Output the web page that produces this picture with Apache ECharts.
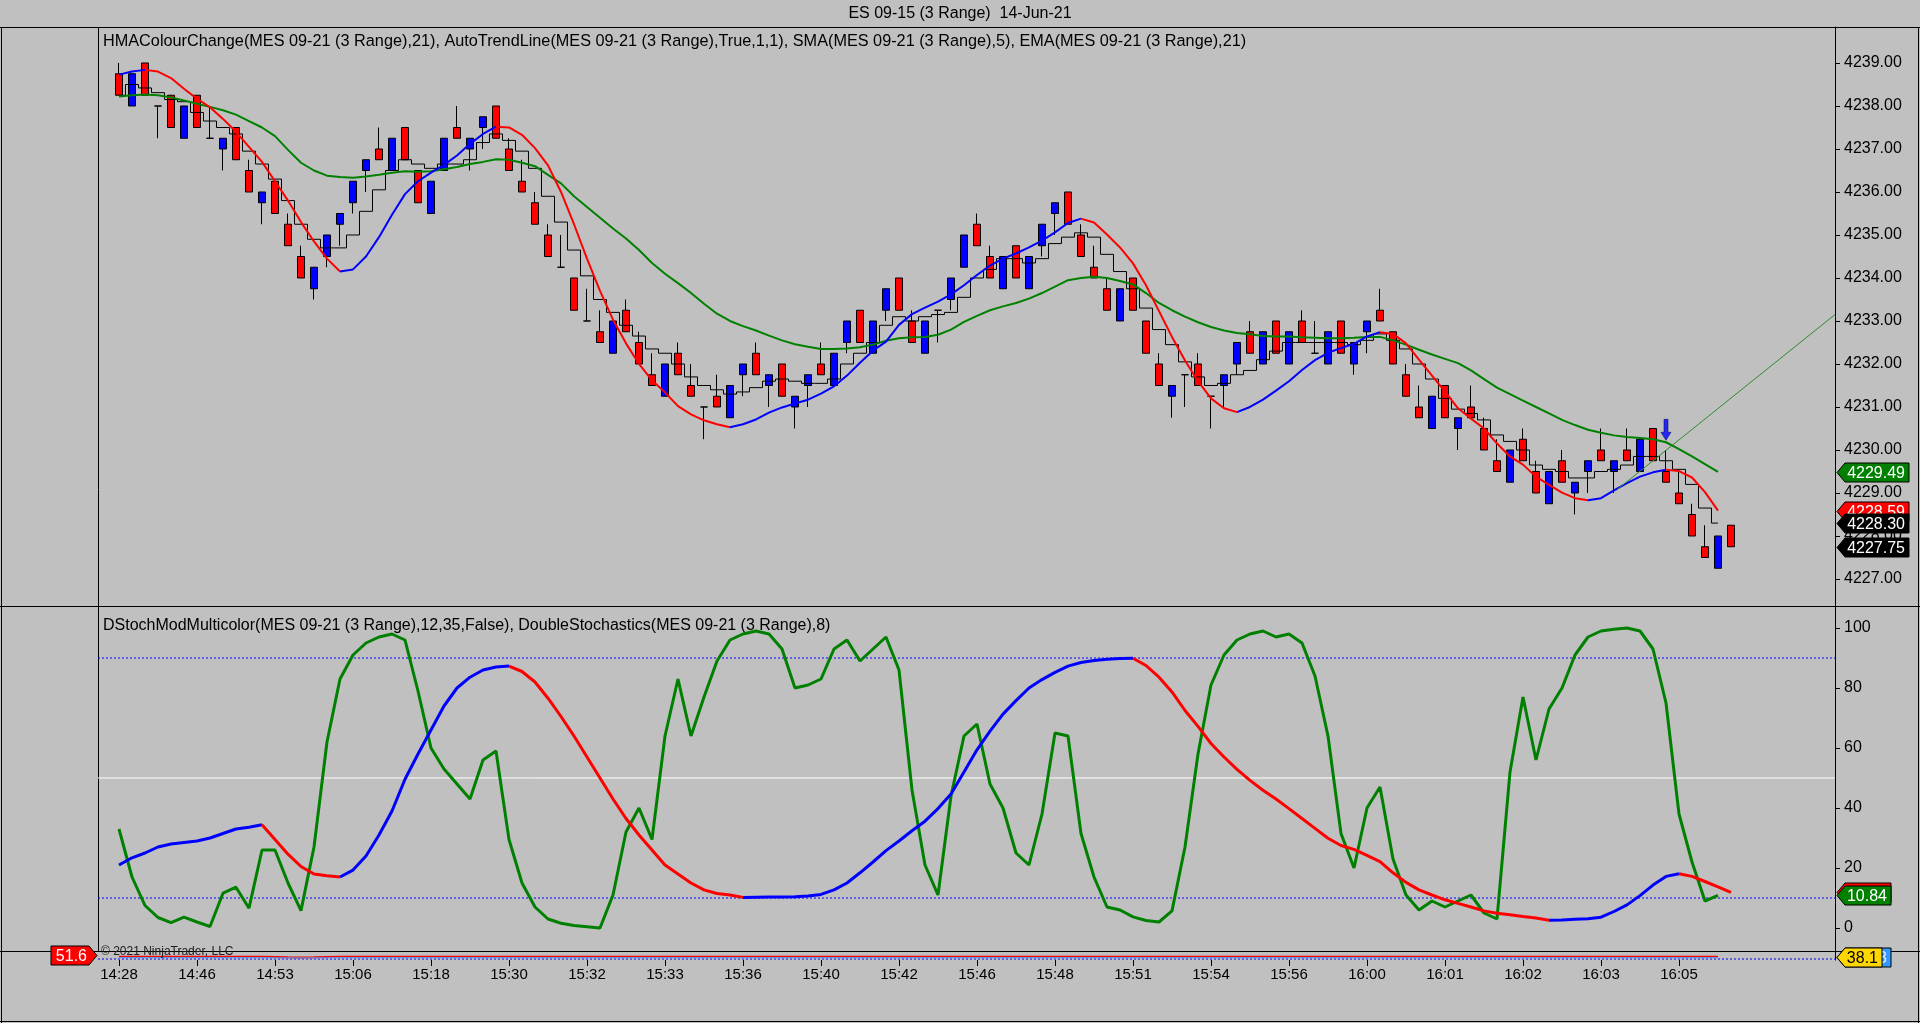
<!DOCTYPE html>
<html><head><meta charset="utf-8">
<script src="https://cdn.jsdelivr.net/npm/echarts@6/dist/echarts.min.js"></script>
<style>html,body{margin:0;padding:0;background:#c0c0c0;overflow:hidden}#c{width:1920px;height:1023px}</style>
</head><body><div id="c"></div>
<script>
// ---------- DATA ----------
const timeLabels = ["14:28","14:46","14:53","15:06","15:18","15:30","15:32","15:33","15:36","15:40","15:42","15:46","15:48","15:51","15:54","15:56","16:00","16:01","16:02","16:03","16:05"];
const labelEvery = 6;

const openP = [
4238.75,4238.0,4239.0,4238.0,4238.25,4237.25,4238.25,4237.25,4237.0,4237.5,
4236.5,4235.75,4236.25,4235.25,4234.5,4233.75,4234.5,4235.25,4235.75,4236.5,
4237.0,4236.5,4237.5,4236.5,4235.5,4236.5,4237.5,4237.0,4237.5,4238.0,
4237.0,4236.25,4235.75,4235.0,4234.25,4234.0,4233.0,4232.75,4232.25,4233.25,
4232.5,4231.75,4231.25,4232.25,4231.5,4231.0,4231.25,4230.75,4231.75,4232.25,
4231.5,4232.0,4231.0,4231.5,4232.0,4231.5,4232.5,4233.25,4232.25,4233.25,
4234.0,4233.0,4232.25,4233.25,4233.5,4234.25,4235.25,4234.5,4233.75,4234.75,
4233.75,4234.75,4235.5,4236.0,4235.0,4234.25,4233.75,4233.0,4234.0,4233.0,
4232.0,4231.25,4231.75,4232.0,4231.25,4231.5,4232.0,4232.75,4232.0,4233.0,
4232.0,4233.0,4232.25,4232.0,4233.0,4232.0,4232.75,4233.25,4232.75,4231.75,
4231.0,4230.5,4231.5,4230.5,4231.0,4230.5,4229.75,4229.25,4230.25,4229.5,
4228.75,4229.75,4229.0,4229.5,4230.0,4229.5,4230.0,4229.5,4230.5,4229.5,
4229.0,4228.5,4227.75,4227.25,4228.25];
const closeP = [
4238.25,4238.75,4238.25,4238.0,4237.5,4238.0,4237.5,4237.25,4237.25,4236.75,
4236.0,4236.0,4235.5,4234.75,4234.0,4234.25,4235.0,4235.5,4236.25,4236.75,
4236.75,4237.25,4236.75,4235.75,4236.25,4237.25,4237.25,4237.25,4237.75,4237.25,
4236.5,4236.0,4235.25,4234.5,4234.25,4233.25,4233.0,4232.5,4233.0,4232.75,
4232.0,4231.5,4232.0,4231.75,4231.25,4231.0,4231.0,4231.5,4232.0,4231.75,
4231.75,4231.25,4231.25,4231.75,4231.75,4232.25,4233.0,4232.5,4233.0,4233.75,
4233.25,4232.5,4233.0,4233.25,4234.0,4235.0,4234.75,4234.0,4234.5,4234.0,
4234.5,4235.25,4235.75,4235.25,4234.5,4234.0,4233.25,4233.75,4233.25,4232.25,
4231.5,4231.5,4231.75,4231.5,4231.25,4231.75,4232.5,4232.25,4232.75,4232.25,
4232.75,4232.5,4232.25,4232.75,4232.25,4232.5,4233.0,4233.0,4232.0,4231.25,
4230.75,4231.25,4230.75,4230.75,4230.75,4230.0,4229.5,4230.0,4229.75,4229.0,
4229.5,4229.25,4229.25,4229.75,4229.75,4229.75,4229.75,4230.25,4229.75,4229.25,
4228.75,4228.0,4227.5,4228.0,4227.75];
const lowP = [
4238.25,4238.0,4238.25,4237.25,4237.5,4237.25,4237.5,4237.25,4236.5,4236.75,
4236.0,4235.25,4235.5,4234.75,4234.0,4233.5,4234.25,4234.75,4235.5,4236.0,
4236.75,4236.5,4236.75,4235.75,4235.5,4236.5,4237.25,4236.5,4237.0,4237.25,
4236.5,4236.0,4235.25,4234.5,4234.25,4233.25,4233.0,4232.5,4232.25,4232.75,
4232.0,4231.5,4231.25,4231.75,4231.25,4230.25,4231.0,4230.75,4231.25,4231.75,
4231.0,4231.25,4230.5,4231.0,4231.75,4231.5,4232.25,4232.5,4232.25,4233.0,
4233.25,4232.5,4232.25,4232.5,4233.25,4234.25,4234.75,4234.0,4233.75,4234.0,
4233.75,4234.5,4235.0,4235.25,4234.5,4234.0,4233.25,4233.0,4233.25,4232.25,
4231.5,4230.75,4231.0,4231.5,4230.5,4231.0,4231.75,4232.25,4232.0,4232.25,
4232.0,4232.5,4232.25,4232.0,4232.25,4231.75,4232.25,4233.0,4232.0,4231.25,
4230.75,4230.5,4230.75,4230.0,4230.75,4230.0,4229.5,4229.25,4229.75,4229.0,
4228.75,4229.25,4228.5,4229.0,4229.75,4229.0,4229.75,4229.5,4229.75,4229.25,
4228.75,4228.0,4227.5,4227.25,4227.75];
const highP = [
4239.0,4238.75,4239.0,4238.0,4238.25,4238.0,4238.25,4238.0,4237.25,4237.5,
4236.75,4236.0,4236.25,4235.5,4234.75,4234.25,4235.0,4235.5,4236.25,4236.75,
4237.5,4237.25,4237.5,4236.5,4236.25,4237.25,4238.0,4237.25,4237.75,4238.0,
4237.25,4236.75,4236.0,4235.25,4235.0,4234.0,4233.75,4233.25,4233.0,4233.5,
4232.75,4232.25,4232.0,4232.5,4232.0,4231.0,4231.75,4231.5,4232.0,4232.5,
4231.75,4232.0,4231.25,4231.75,4232.5,4232.25,4233.0,4233.25,4233.0,4233.75,
4234.0,4233.25,4233.0,4233.25,4234.0,4235.0,4235.5,4234.75,4234.5,4234.75,
4234.5,4235.25,4235.75,4236.0,4235.25,4234.75,4234.0,4233.75,4234.0,4233.0,
4232.25,4231.5,4231.75,4232.25,4231.25,4231.75,4232.5,4233.0,4232.75,4233.0,
4232.75,4233.25,4233.0,4232.75,4233.0,4232.5,4233.0,4233.75,4232.75,4232.0,
4231.5,4231.25,4231.5,4230.75,4231.5,4230.75,4230.25,4230.0,4230.5,4229.75,
4229.5,4230.0,4229.25,4229.75,4230.5,4229.75,4230.5,4230.25,4230.5,4230.0,
4229.5,4228.75,4228.25,4228.0,4228.25];

const hmaVals = [
4238.73,4238.80,4238.84,4238.80,4238.65,4238.40,4238.17,4237.97,4237.70,4237.40,
4237.05,4236.70,4236.25,4235.80,4235.30,4234.85,4234.45,4234.15,4234.20,4234.50,
4234.95,4235.47,4235.95,4236.25,4236.45,4236.63,4236.85,4237.12,4237.35,4237.52,
4237.50,4237.33,4237.02,4236.62,4236.00,4235.25,4234.45,4233.70,4233.03,4232.48,
4232.00,4231.62,4231.34,4231.02,4230.83,4230.69,4230.60,4230.53,4230.60,4230.71,
4230.87,4230.99,4231.08,4231.17,4231.31,4231.48,4231.73,4232.03,4232.31,4232.52,
4232.91,4233.16,4233.31,4233.45,4233.62,4233.83,4234.07,4234.29,4234.45,4234.57,
4234.71,4234.87,4235.06,4235.28,4235.38,4235.29,4235.01,4234.71,4234.34,4233.83,
4233.23,4232.63,4232.08,4231.60,4231.20,4230.97,4230.88,4231.00,4231.17,4231.38,
4231.60,4231.86,4232.09,4232.26,4232.37,4232.47,4232.64,4232.74,4232.70,4232.48,
4232.10,4231.73,4231.36,4230.97,4230.73,4230.50,4230.15,4229.85,4229.66,4229.38,
4229.19,4229.01,4228.88,4228.83,4228.88,4229.06,4229.23,4229.38,4229.48,4229.54,
4229.51,4229.36,4229.02,4228.59];
const smaVals = [
4238.25,4238.5,4238.42,4238.31,4238.15,4238.1,4237.85,4237.65,4237.5,4237.35,
4236.95,4236.65,4236.3,4235.8,4235.25,4234.9,4234.7,4234.7,4235.0,4235.55,
4236.05,4236.5,4236.75,4236.65,4236.55,4236.65,4236.65,4236.75,4237.15,4237.35,
4237.2,4236.95,4236.55,4235.9,4235.3,4234.65,4234.05,4233.5,4233.2,4232.9,
4232.65,4232.35,4232.25,4232.0,4231.7,4231.5,4231.4,4231.3,4231.35,4231.45,
4231.6,4231.65,4231.6,4231.55,4231.55,4231.65,4232.0,4232.25,4232.5,4232.9,
4233.1,4233.0,4233.1,4233.15,4233.2,4233.55,4234.0,4234.2,4234.45,4234.45,
4234.35,4234.45,4234.8,4234.95,4235.05,4234.95,4234.55,4234.15,4233.75,4233.3,
4232.8,4232.45,4232.05,4231.7,4231.5,4231.55,4231.75,4231.85,4232.1,4232.3,
4232.5,4232.5,4232.5,4232.5,4232.5,4232.45,4232.55,4232.7,4232.55,4232.35,
4232.0,4231.65,4231.2,4230.95,4230.85,4230.7,4230.35,4230.2,4230.0,4229.65,
4229.55,4229.5,4229.35,4229.35,4229.5,4229.55,4229.65,4229.85,4229.85,4229.75,
4229.55,4229.2,4228.65,4228.3];
const emaVals = [
4238.22,4238.25,4238.27,4238.25,4238.2,4238.13,4238.05,4237.98,4237.9,4237.8,
4237.65,4237.5,4237.3,4236.98,4236.68,4236.5,4236.38,4236.35,4236.33,4236.36,
4236.4,4236.45,4236.48,4236.47,4236.48,4236.53,4236.58,4236.65,4236.7,4236.76,
4236.75,4236.68,4236.6,4236.4,4236.2,4235.9,4235.65,4235.4,4235.15,4234.92,
4234.65,4234.35,4234.1,4233.88,4233.65,4233.4,4233.17,4233.0,4232.88,4232.78,
4232.66,4232.55,4232.46,4232.4,4232.35,4232.35,4232.36,4232.39,4232.45,4232.54,
4232.6,4232.62,4232.63,4232.68,4232.8,4232.98,4233.12,4233.25,4233.34,4233.42,
4233.52,4233.65,4233.8,4233.95,4234.0,4234.03,4234.0,4233.93,4233.85,4233.65,
4233.42,4233.25,4233.1,4232.97,4232.86,4232.78,4232.72,4232.69,4232.65,4232.64,
4232.64,4232.62,4232.61,4232.6,4232.6,4232.61,4232.63,4232.63,4232.55,4232.45,
4232.33,4232.22,4232.12,4232.02,4231.85,4231.65,4231.45,4231.3,4231.15,4231.0,
4230.85,4230.7,4230.58,4230.47,4230.4,4230.34,4230.3,4230.28,4230.25,4230.18,
4230.02,4229.85,4229.67,4229.49];

const trendX = [115.2, 132.0];
const trendY = [4229.07, 4233.15];
const arrowBars = [119];
const arrowPrices = [4230.47];

const dstochVals = [
21,23.4,25,27,28,28.5,29,30,31.5,33,
33.6,34.4,29.5,24.6,20.5,18,17.4,17.0,19.3,24,
31,39,49.6,58,66,74,80,83.6,86,87,
87.3,85.5,82,76.6,70.5,64,57,50,43,36.5,
31,26,21,18,15,12.7,11.5,11.0,10.2,10.25,
10.3,10.35,10.45,10.7,11.2,12.7,15,18.4,22,25.8,
29,32.4,35.6,39.8,44.7,52,59.4,65.6,71.3,75.8,
80,82.8,85.2,87.3,88.5,89.2,89.6,89.8,89.9,87.5,
83.6,78.7,72.5,67.2,61.5,57,52.9,49.2,45.9,43,
39.8,36.5,33.2,29.9,27.5,26.2,24.2,22.1,18.4,15.2,
12.7,11,9.4,8.2,7,5.7,4.9,4.4,3.8,3.3,
2.6,2.7,2.9,3.1,3.6,5.5,7.7,10.8,14.3,17.2,
18.1,17.2,15.5,13.7,11.9];
const dblStochVals = [
33,17,7.5,3.5,1.8,3.6,2,0.5,11.6,13.6,
6.6,26,26,15,5.8,27,62,83,91,95,
97,98,96,79,60,53,48,43,56,59,
29.5,15,7,3,1.6,0.8,0.4,0,11,32,
40,29.5,64,83,64,77,89,96,98,99,
98,93,80,81,83,93,96,89,93,97,
86,46,21,11,44,64,68,48,40,25,
21,38,65,64,31.5,17,7,6,3.7,2.5,
2,5.7,27,58,81,91,96,98,99,97,
98,95,84,64,31.5,20,40,47,23,11,
6,9,7,9,11,5,3,52,77,56,
73,80,91,97,99,99.6,100,99,93,75,
38,22,9,10.84];
const stochTicks = [0,20,40,60,80,100];
const stochLevels = [10,90];
const stochMid = 50;
const priceTicks = [4227,4228,4229,4230,4231,4232,4233,4234,4235,4236,4237,4238,4239];

const tinyRed = [
37,37,37,37,37,37,37,37,37,37,
37,36,34,31,29,30,33,36,37,37,
37,37,37,37,37,37,37,37,37,37,
37,37,37,36,36,36,36,36,36,36,
36,36,36,36,36,36,36,36,36,36,
36,36,36,36,37,37,37,37,37,37,
37,37,37,37,37,37,37,37,37,37,
37,37,37,37,37,37,37,36,36,36,
36,36,36,36,36,36,36,36,36,36,
36,36,36,36,36,36,36,36,36,36,
36,36,36,36,36,36,36,36,36,36,
36,36,36,36,36,36,36,36,36,36,
36,36,36,36];
const tinyBlue = [
26,26,26,26,26,26,26,26,26,26,
26,26,25,24,23,24,25,26,26,26,
26,26,26,26,26,26,26,26,26,26,
26,26,26,26,26,26,26,26,26,26,
26,26,26,26,26,26,26,26,26,26,
26,26,26,26,26,26,26,26,26,26,
26,26,26,26,26,26,26,26,26,26,
26,26,26,26,26,26,26,26,26,26,
26,26,26,26,26,26,26,26,26,26,
26,26,26,26,26,26,26,26,26,26,
26,26,26,26,26,26,26,26,26,26,
26,26,26,26,26,26,26,26,26,26,
26,26,26,26];
const tinyDotLevel = 11;
const tinyTagVals = [51.6, 38.13, 38.1];

// ---------- LAYOUT / STYLE ----------
const X_MIN = -1.615, X_MAX = 132.0;
const FONT = '"Liberation Sans", Arial, sans-serif';
const BLACK = '#000000';
const DOT_BLUE = '#0000ff';

const idx = a => a.map((v, i) => [i, v]);
const hLine = v => [[X_MIN, v], [X_MAX, v]];
function slopeSplit(vals) {
  const up = [], dn = [], n = vals.length;
  for (let i = 0; i < n; i++) {
    const rIn = i > 0 && vals[i] > vals[i - 1], rOut = i < n - 1 && vals[i + 1] > vals[i];
    const fIn = i > 0 && vals[i] <= vals[i - 1], fOut = i < n - 1 && vals[i + 1] <= vals[i];
    up.push([i, (rIn || rOut) ? vals[i] : null]);
    dn.push([i, (fIn || fOut) ? vals[i] : null]);
  }
  return { up, dn };
}
const hmaSplit = slopeSplit(hmaVals);
const dsSplit = slopeSplit(dstochVals);
const candleData = openP.map((o, i) => [i, o, closeP[i], lowP[i], highP[i]]);

function tagRenderer(styles) {
  return function (params, api) {
    const st = styles[params.dataIndex];
    const p = api.coord([api.value(0), api.value(1)]);
    const h = 19, tip = 8, w = st.w;
    const y = Math.round(p[1]) + 0.5;
    let pts, tx;
    if (st.side === 'right') {
      const x0 = p[0] + 2;
      pts = [[x0, y], [x0 + tip, y - h / 2], [x0 + w, y - h / 2], [x0 + w, y + h / 2], [x0 + tip, y + h / 2]];
      tx = x0 + w - 4;
    } else {
      const x1 = p[0] - 1;
      pts = [[x1, y], [x1 - tip, y - h / 2], [x1 - w, y - h / 2], [x1 - w, y + h / 2], [x1 - tip, y + h / 2]];
      tx = x1 - tip - 2;
    }
    return { type: 'group', children: [
      { type: 'polygon', shape: { points: pts }, style: { fill: st.bg, stroke: '#000', lineWidth: 1 } },
      { type: 'text', style: { text: api.value(1).toFixed(st.d), x: tx, y: y + 1, align: 'right', verticalAlign: 'middle', fill: st.fg, font: '16px ' + FONT } }
    ] };
  };
}
const mainTagVals = [emaVals[emaVals.length - 1], hmaVals[hmaVals.length - 1], smaVals[smaVals.length - 1], closeP[closeP.length - 1]];
const mainTagStyles = [
  { bg: '#008000', fg: '#ffffff', w: 72, d: 2, side: 'right' },
  { bg: '#ff0000', fg: '#ffffff', w: 72, d: 2, side: 'right' },
  { bg: '#000000', fg: '#ffffff', w: 72, d: 2, side: 'right' },
  { bg: '#000000', fg: '#ffffff', w: 72, d: 2, side: 'right' }
];
const lowTagVals = [dstochVals[dstochVals.length - 1], dblStochVals[dblStochVals.length - 1]];
const lowTagStyles = [
  { bg: '#ff0000', fg: '#ffffff', w: 54, d: 2, side: 'right' },
  { bg: '#008000', fg: '#ffffff', w: 54, d: 2, side: 'right' }
];
const tinyTagStyles = [
  { bg: '#ff0000', fg: '#ffffff', w: 46, d: 1, side: 'left' },
  { bg: '#3399ff', fg: '#e8f0ff', w: 54, d: 2, side: 'right' },
  { bg: '#ffd700', fg: '#000000', w: 45, d: 1, side: 'right' }
];

function xAxis(gi, showLabels) {
  return {
    type: 'value', gridIndex: gi, min: X_MIN, max: X_MAX, show: true,
    axisLine: { show: false, onZero: false },
    splitLine: { show: false },
    axisTick: showLabels ? { show: true, length: 6, lineStyle: { color: BLACK }, customValues: timeLabels.map((t, k) => k * labelEvery) } : { show: false },
    axisLabel: showLabels ? { show: true, fontSize: 15, fontFamily: FONT, color: BLACK, margin: 7,
      customValues: timeLabels.map((t, k) => k * labelEvery),
      formatter: v => timeLabels[Math.round(v / labelEvery)] } : { show: false }
  };
}
function yAxis(gi, min, max, ticks, fmt) {
  return {
    type: 'value', gridIndex: gi, min, max, position: 'right',
    axisLine: { show: true, onZero: false, lineStyle: { color: BLACK, width: 1 } },
    splitLine: { show: false },
    axisTick: ticks ? { show: true, length: 5, lineStyle: { color: BLACK }, customValues: ticks } : { show: false },
    axisLabel: ticks ? { show: true, fontSize: 16, fontFamily: FONT, color: BLACK, margin: 9, customValues: ticks, formatter: fmt } : { show: false }
  };
}
function levelLine(xi, yi, v, color, type, z) {
  return { type: 'line', xAxisIndex: xi, yAxisIndex: yi, data: hLine(v), symbol: 'none', silent: true, z,
    lineStyle: { color, type, width: 1 } };
}

const option = {
  backgroundColor: '#c0c0c0',
  animation: false,
  grid: [
    { left: 98, top: 27, width: 1737, height: 579, containLabel: false, outerBoundsMode: 'none' },
    { left: 98, top: 606, width: 1737, height: 345, containLabel: false, outerBoundsMode: 'none' },
    { left: 98, top: 951, width: 1737, height: 9, containLabel: false, outerBoundsMode: 'none' }
  ],
  xAxis: [xAxis(0, false), xAxis(1, false), xAxis(2, true)],
  yAxis: [
    yAxis(0, 4226.372, 4239.837, priceTicks, v => v.toFixed(2)),
    yAxis(1, -7.667, 107.333, stochTicks, v => String(v)),
    yAxis(2, 0, 100, null, null)
  ],
  graphic: [
    { type: 'text', left: 'center', top: 6, silent: true, style: { text: 'ES 09-15 (3 Range)  14-Jun-21', font: '16px ' + FONT, fill: BLACK } },
    { type: 'text', x: 103, y: 34, silent: true, style: { text: 'HMAColourChange(MES 09-21 (3 Range),21), AutoTrendLine(MES 09-21 (3 Range),True,1,1), SMA(MES 09-21 (3 Range),5), EMA(MES 09-21 (3 Range),21)', font: '16.25px ' + FONT, fill: BLACK } },
    { type: 'text', x: 103, y: 618, silent: true, style: { text: 'DStochModMulticolor(MES 09-21 (3 Range),12,35,False), DoubleStochastics(MES 09-21 (3 Range),8)', font: '16px ' + FONT, fill: BLACK } },
    { type: 'text', x: 101, y: 946, silent: true, z: 50, style: { text: '\u00a9 2021 NinjaTrader, LLC', font: '12px ' + FONT, fill: '#202020' } },
    { type: 'line', silent: true, shape: { x1: 0, y1: 27.5, x2: 1920, y2: 27.5 }, style: { stroke: BLACK, lineWidth: 1 } },
    { type: 'line', silent: true, shape: { x1: 0, y1: 606.5, x2: 1920, y2: 606.5 }, style: { stroke: BLACK, lineWidth: 1 } },
    { type: 'line', silent: true, shape: { x1: 0, y1: 951.5, x2: 1920, y2: 951.5 }, style: { stroke: BLACK, lineWidth: 1 } },
    { type: 'line', silent: true, shape: { x1: 98.5, y1: 27, x2: 98.5, y2: 952 }, style: { stroke: BLACK, lineWidth: 1 } },
    { type: 'line', silent: true, shape: { x1: 1.5, y1: 27, x2: 1.5, y2: 1023 }, style: { stroke: BLACK, lineWidth: 1 } },
    { type: 'line', silent: true, shape: { x1: 1918.5, y1: 27, x2: 1918.5, y2: 1023 }, style: { stroke: BLACK, lineWidth: 1 } },
    { type: 'line', silent: true, shape: { x1: 0, y1: 1021.5, x2: 1920, y2: 1021.5 }, style: { stroke: BLACK, lineWidth: 1 } }
  ],
  series: [
    { type: 'candlestick', name: 'price', xAxisIndex: 0, yAxisIndex: 0, data: candleData,
      encode: { x: 0, y: [1, 2, 3, 4] }, barWidth: 8, silent: true, z: 2,
      itemStyle: { color: '#0000ff', color0: '#ff0000', borderColor: BLACK, borderColor0: BLACK, borderColorDoji: BLACK, borderWidth: 1 } },
    { type: 'line', name: 'SMA', xAxisIndex: 0, yAxisIndex: 0, data: idx(smaVals), step: 'middle', symbol: 'none', silent: true, z: 3,
      lineStyle: { color: BLACK, width: 1 } },
    { type: 'line', name: 'EMA', xAxisIndex: 0, yAxisIndex: 0, data: idx(emaVals), symbol: 'none', silent: true, z: 4,
      lineStyle: { color: '#008000', width: 2 } },
    { type: 'line', name: 'HMA up', xAxisIndex: 0, yAxisIndex: 0, data: hmaSplit.up, symbol: 'none', silent: true, z: 5,
      lineStyle: { color: '#0000ff', width: 2 } },
    { type: 'line', name: 'HMA down', xAxisIndex: 0, yAxisIndex: 0, data: hmaSplit.dn, symbol: 'none', silent: true, z: 5,
      lineStyle: { color: '#ff0000', width: 2 } },
    { type: 'line', name: 'trend', xAxisIndex: 0, yAxisIndex: 0, data: trendX.map((x, k) => [x, trendY[k]]), symbol: 'none', silent: true, z: 5,
      lineStyle: { color: '#2e8b2e', width: 1 } },
    { type: 'scatter', name: 'arrow', xAxisIndex: 0, yAxisIndex: 0, data: arrowBars.map((b, k) => [b, arrowPrices[k]]), silent: true, z: 6,
      symbol: 'path://M3,0 L7,0 L7,13 L10,13 L5,21 L0,13 L3,13 Z', symbolSize: [10, 21], symbolKeepAspect: false,
      itemStyle: { color: '#0000ff', borderColor: '#000060', borderWidth: 0.6 } },
    { type: 'custom', name: 'priceTags', xAxisIndex: 0, yAxisIndex: 0, data: mainTagVals.map(v => [X_MAX, v]),
      renderItem: tagRenderer(mainTagStyles), silent: true, z: 20, clip: false },

    ...stochLevels.map(v => levelLine(1, 1, v, DOT_BLUE, [2, 2], 2)),
    levelLine(1, 1, stochMid, '#ffffff', 'solid', 2),
    { type: 'line', name: 'DoubleStochastics', xAxisIndex: 1, yAxisIndex: 1, data: idx(dblStochVals), symbol: 'none', silent: true, z: 3,
      lineStyle: { color: '#008000', width: 3 } },
    { type: 'line', name: 'DStoch up', xAxisIndex: 1, yAxisIndex: 1, data: dsSplit.up, symbol: 'none', silent: true, z: 4,
      lineStyle: { color: '#0000ff', width: 3 } },
    { type: 'line', name: 'DStoch down', xAxisIndex: 1, yAxisIndex: 1, data: dsSplit.dn, symbol: 'none', silent: true, z: 4,
      lineStyle: { color: '#ff0000', width: 3 } },
    { type: 'custom', name: 'stochTags', xAxisIndex: 1, yAxisIndex: 1, data: lowTagVals.map(v => [X_MAX, v]),
      renderItem: tagRenderer(lowTagStyles), silent: true, z: 20, clip: false },

    levelLine(2, 2, tinyDotLevel, DOT_BLUE, [2, 2], 2),
    { type: 'line', name: 'tinyRed', xAxisIndex: 2, yAxisIndex: 2, data: idx(tinyRed), symbol: 'none', silent: true, z: 3,
      lineStyle: { color: '#ff0000', width: 2 } },
    { type: 'line', name: 'tinyBlue', xAxisIndex: 2, yAxisIndex: 2, data: idx(tinyBlue), symbol: 'none', silent: true, z: 3,
      lineStyle: { color: '#4aa8ff', width: 1 } },
    { type: 'custom', name: 'tinyTags', xAxisIndex: 2, yAxisIndex: 2,
      data: [[X_MIN, tinyTagVals[0]], [X_MAX, tinyTagVals[1]], [X_MAX, tinyTagVals[2]]],
      renderItem: tagRenderer(tinyTagStyles), silent: true, z: 20, clip: false }
  ]
};
const chart = echarts.init(document.getElementById('c'), null, { renderer: 'canvas', width: 1920, height: 1023 });
chart.setOption(option);
</script>
</body></html>
